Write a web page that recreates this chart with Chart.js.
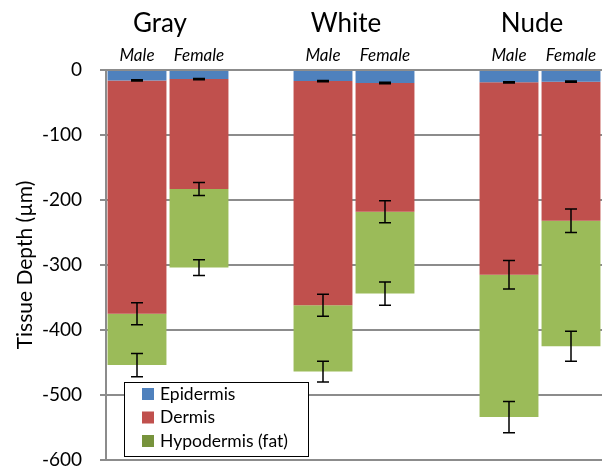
<!DOCTYPE html>
<html>
<head>
<meta charset="utf-8">
<script src="https://cdn.jsdelivr.net/npm/chart.js@4/dist/chart.umd.min.js"></script>
<style>
  html, body { margin: 0; padding: 0; background: #fff; }
  #wrap { width: 605px; height: 468px; }
</style>
</head>
<body>
<div id="wrap"><canvas id="myChart"></canvas></div>
<script>
// categories (blank slot = gap between groups)
var labels = ['Male', 'Female', '', 'Male', 'Female', '', 'Male', 'Female'];
var groups = ['Gray', 'White', 'Nude'];

// layer thickness in µm (negative = depth)
var epidermis  = [-16, -14, null, -17, -20, null, -19, -18];
var dermis     = [-359, -169, null, -345, -198, null, -296, -214];
var hypodermis = [-79, -121, null, -102, -126, null, -219, -193];

// error at the bottom of each layer
var epidermisErr  = [1, 1, null, 1, 1, null, 1, 1];
var dermisErr     = [17, 10, null, 17, 17, null, 22, 18];
var hypodermisErr = [18, 12, null, 16, 18, null, 24, 23];

var yTicks = [0, -100, -200, -300, -400, -500, -600];

var FONT = 'Lato';
var legendSwatch = ['#4F81BD', '#C0504D', '#77933C'];

// error bars at each layer boundary
var errorBars = {
    id: 'errorBars',
    afterDatasetsDraw: function (chart) {
        var ctx = chart.ctx;
        var y = chart.scales.y;
        var errs = [epidermisErr, dermisErr, hypodermisErr];
        ctx.save();
        ctx.strokeStyle = '#000';
        ctx.lineWidth = 1.5;
        chart.data.datasets.forEach(function (ds, d) {
            var meta = chart.getDatasetMeta(d);
            meta.data.forEach(function (bar, i) {
                if (ds.data[i] == null) return;
                var sum = 0;
                for (var k = 0; k <= d; k++) sum += chart.data.datasets[k].data[i];
                var e = errs[d][i];
                var top = y.getPixelForValue(sum + e);
                var bot = y.getPixelForValue(sum - e);
                var x = bar.x;
                ctx.beginPath();
                ctx.moveTo(x, top); ctx.lineTo(x, bot);
                ctx.moveTo(x - 6, top); ctx.lineTo(x + 6, top);
                ctx.moveTo(x - 6, bot); ctx.lineTo(x + 6, bot);
                ctx.stroke();
            });
        });
        ctx.restore();
    }
};

// group titles + legend box
var extras = {
    id: 'extras',
    afterDraw: function (chart) {
        var ctx = chart.ctx;
        var x = chart.scales.x;
        var area = chart.chartArea;
        ctx.save();
        ctx.fillStyle = '#000';
        ctx.font = '26px ' + FONT;
        ctx.textAlign = 'center';
        ctx.textBaseline = 'alphabetic';
        groups.forEach(function (g, j) {
            var cx = (x.getPixelForValue(j * 3) + x.getPixelForValue(j * 3 + 1)) / 2;
            ctx.fillText(g, cx - 8, 32);
        });

        var lx = area.left + 18, ly = area.bottom - 78, lw = 184, lh = 74;
        ctx.fillStyle = '#fff';
        ctx.fillRect(lx, ly, lw, lh);
        ctx.strokeStyle = '#000';
        ctx.lineWidth = 1;
        ctx.strokeRect(lx + 0.5, ly + 0.5, lw, lh);
        ctx.font = '17.5px ' + FONT;
        ctx.textAlign = 'left';
        ctx.textBaseline = 'middle';
        chart.data.datasets.forEach(function (ds, d) {
            var ry = ly + 12 + d * 23.5;
            ctx.fillStyle = legendSwatch[d];
            ctx.fillRect(lx + 18, ry - 6, 12, 12);
            ctx.fillStyle = '#000';
            ctx.fillText(ds.label, lx + 36, ry);
        });
        ctx.restore();
    }
};

var ctx = document.getElementById('myChart').getContext('2d');
var myChart = new Chart(ctx, {
    type: 'bar',
    data: {
        labels: labels,
        datasets: [
            { label: 'Epidermis', data: epidermis, backgroundColor: '#4F81BD' },
            { label: 'Dermis', data: dermis, backgroundColor: '#C0504D' },
            { label: 'Hypodermis (fat)', data: hypodermis, backgroundColor: '#9BBB59' }
        ]
    },
    options: {
        responsive: true,
        maintainAspectRatio: false,
        animation: false,
        layout: { padding: { left: 0, right: 3, top: 0, bottom: 8 } },
        datasets: { bar: { barPercentage: 0.95, categoryPercentage: 1.0 } },
        plugins: {
            legend: { display: false },
            tooltip: { enabled: false }
        },
        scales: {
            x: {
                position: 'top',
                stacked: true,
                grid: { display: false, drawTicks: false },
                border: { display: false },
                ticks: {
                    color: '#000',
                    font: { family: FONT, size: 17, style: 'italic' },
                    padding: 4,
                    autoSkip: false,
                    maxRotation: 0
                },
                afterFit: function (scale) { scale.height = 70; }
            },
            y: {
                stacked: true,
                min: -600,
                max: 0,
                afterBuildTicks: function (scale) {
                    scale.ticks = yTicks.map(function (v) { return { value: v }; });
                },
                grid: { color: '#8c8c8c', lineWidth: 2, tickLength: 6 },
                border: { color: '#8c8c8c', width: 2 },
                ticks: {
                    color: '#000',
                    font: { family: FONT, size: 19 },
                    padding: 18
                },
                title: {
                    display: true,
                    text: 'Tissue Depth (µm)',
                    color: '#000',
                    font: { family: FONT, size: 21 },
                    padding: { top: 13, bottom: 0 }
                },
                afterFit: function (scale) {
                    scale.width = 106;
                    scale.paddingTop = 0;
                    scale.paddingBottom = 0;
                }
            }
        }
    },
    plugins: [errorBars, extras]
});
</script>
</body>
</html>
